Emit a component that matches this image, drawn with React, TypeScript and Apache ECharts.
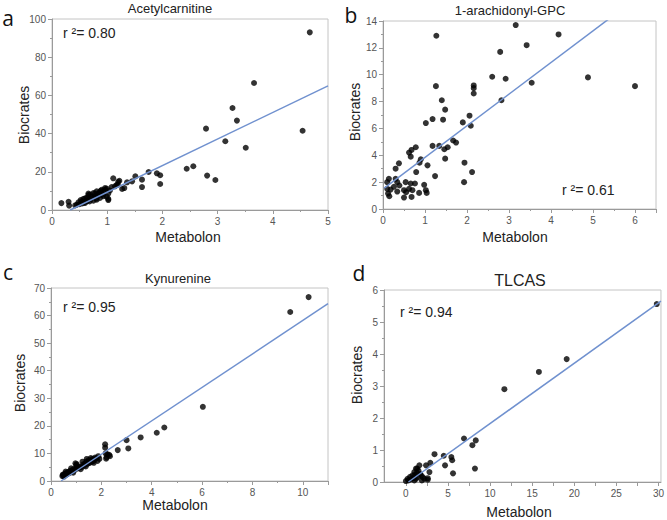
import React, { useEffect, useRef } from "react";
import * as echarts from "echarts";

// Panel a: Acetylcarnitine (Metabolon, Biocrates)
const acetylPoints: number[][] = [
  [0.17, 3.6], [0.30, 4.3], [0.31, 2.3], [0.42, 2.4], [0.45, 2.8], [0.48, 4.0], [0.50, 3.0], [0.52, 5.2],
  [0.54, 4.5], [0.55, 3.4], [0.57, 5.8], [0.58, 3.9], [0.60, 6.1], [0.60, 3.7], [0.63, 6.3], [0.63, 4.6],
  [0.65, 5.0], [0.66, 7.8], [0.66, 8.6], [0.68, 4.5], [0.69, 8.0], [0.70, 5.6], [0.72, 6.8], [0.75, 8.9],
  [0.75, 4.9], [0.77, 7.0], [0.78, 8.7], [0.78, 7.2], [0.80, 6.0], [0.81, 9.8], [0.81, 5.4], [0.83, 8.2],
  [0.84, 7.5], [0.86, 9.2], [0.87, 8.9], [0.87, 6.3], [0.88, 10.0], [0.90, 10.6], [0.92, 8.0], [0.93, 9.8],
  [0.93, 7.2], [0.96, 10.5], [0.96, 11.5], [0.99, 11.2], [0.99, 7.0], [1.02, 8.6], [1.02, 5.8], [1.02, 5.2],
  [1.05, 10.2], [1.08, 12.0], [1.11, 16.6], [1.14, 12.4], [1.17, 13.1], [1.19, 13.3], [1.20, 14.8], [1.22, 15.3],
  [1.27, 11.0], [1.31, 11.5], [1.36, 14.5], [1.45, 15.0], [1.51, 17.6], [1.63, 15.9], [1.63, 12.0], [1.75, 19.9],
  [1.90, 19.2], [1.96, 18.2], [1.96, 13.6], [2.44, 21.6], [2.56, 22.9], [2.79, 42.6], [2.81, 18.0], [2.96, 15.7],
  [3.14, 36.0], [3.27, 53.4], [3.35, 46.8], [3.51, 32.6], [3.66, 66.5], [4.54, 41.5], [4.67, 93.0],
];
const acetylFit: number[][] = [[0.33, 0], [5, 65]];

// Panel b: 1-arachidonyl-GPC
const gpcPoints: number[][] = [
  [3.16, 13.7], [1.27, 12.9], [4.18, 13.0], [3.42, 12.2], [2.79, 11.7], [2.60, 9.85], [2.92, 9.7], [3.54, 9.4],
  [4.88, 9.8], [6.0, 9.15], [1.26, 9.15], [2.16, 9.2], [2.16, 9.0], [2.16, 8.6], [1.40, 8.1], [2.82, 8.1],
  [1.48, 7.4], [2.06, 6.95], [1.18, 6.7], [1.43, 6.65], [1.02, 6.4], [1.90, 6.45], [2.09, 6.2], [1.67, 5.1],
  [1.74, 4.95], [1.54, 4.6], [1.46, 4.45], [1.18, 4.7], [1.34, 4.7], [1.48, 3.75], [0.78, 4.6], [0.68, 4.4],
  [0.62, 4.2], [0.66, 3.9], [0.38, 3.4], [0.87, 3.45], [0.90, 3.7], [1.06, 3.25], [0.30, 3.0], [0.79, 2.75],
  [1.24, 2.45], [1.94, 3.45], [2.12, 2.75], [1.93, 2.0], [0.14, 2.25], [0.30, 2.25], [0.10, 2.0], [0.34, 2.0],
  [0.54, 2.0], [0.66, 1.9], [0.76, 1.9], [0.98, 1.8], [0.10, 1.5], [0.18, 1.45], [0.26, 1.65], [0.39, 1.75],
  [0.50, 1.4], [0.62, 1.5], [0.70, 1.4], [0.55, 1.25], [1.02, 1.4], [1.04, 1.2], [0.86, 1.2], [0.15, 0.95],
  [0.50, 0.85], [0.68, 0.9], [0.12, 1.15], [0.34, 1.3],
];
const gpcFit: number[][] = [[0.03, 1.55], [6.5, 16.8]];

// Panel c: Kynurenine
const kynPoints: number[][] = [
  [0.45, 1.8], [0.47, 2.3], [0.49, 2.1], [0.52, 1.6], [0.55, 2.5], [0.56, 2.7], [0.60, 2.2], [0.62, 3.0],
  [0.66, 2.6], [0.69, 3.3], [0.72, 2.9], [0.75, 3.6], [0.78, 3.1], [0.82, 3.9], [0.86, 3.5], [0.90, 4.3],
  [0.95, 4.0], [1.0, 5.8], [1.02, 6.1], [1.02, 5.0], [1.06, 4.6], [1.10, 5.2], [1.15, 4.9], [1.22, 5.1],
  [1.28, 6.0], [1.32, 5.6], [1.35, 6.3], [1.40, 7.0], [1.45, 6.2], [1.48, 6.9], [1.50, 7.6], [1.52, 6.5],
  [1.55, 7.2], [1.60, 6.8], [1.62, 7.5], [1.65, 8.0], [1.68, 7.2], [1.72, 7.8], [1.75, 8.5], [1.80, 8.2],
  [1.88, 9.0], [1.92, 8.0], [2.15, 13.3], [2.15, 12.1], [2.17, 10.0], [2.19, 8.1], [2.21, 8.6], [2.24, 9.7],
  [2.31, 9.5], [2.34, 9.0], [2.65, 11.2], [3.0, 14.8], [3.07, 11.8], [3.56, 15.8], [4.20, 17.5], [4.50, 19.4],
  [6.03, 26.9], [9.50, 61.3], [10.23, 66.7],
  [0.58, 3.4], [0.80, 4.6], [0.97, 6.4], [1.25, 7.0], [1.42, 8.0], [1.58, 8.3], [1.38, 5.3], [1.18, 4.3],
  [0.88, 3.0], [1.70, 6.6], [1.85, 7.3],
];
const kynFit: number[][] = [[0.4, 0], [11, 64.3]];

// Panel d: TLCAS
const tlcasPoints: number[][] = [
  [0.0, 0.03], [0.2, 0.1], [0.3, 0.05], [0.5, 0.16], [0.6, 0.08], [0.8, 0.21], [0.9, 0.12], [1.0, 0.31],
  [1.0, 0.05], [1.1, 0.22], [1.2, 0.1], [1.2, 0.42], [1.3, 0.28], [1.35, 0.42], [1.4, 0.15], [1.5, 0.35],
  [1.6, 0.52], [1.7, 0.25], [1.8, 0.21], [1.9, 0.05], [2.0, 0.15], [2.2, 0.1], [2.4, 0.52], [2.6, 0.07],
  [2.6, 0.12], [2.8, 0.31], [2.9, 0.6], [3.4, 0.87], [4.5, 0.82], [4.65, 0.52], [5.4, 0.78], [5.5, 0.68],
  [5.6, 0.27], [6.9, 1.36], [7.9, 1.15], [8.2, 0.42], [8.3, 1.3], [11.7, 2.9], [15.8, 3.44], [19.1, 3.84],
  [29.8, 5.56],
];
const tlcasFit: number[][] = [[0.3, 0], [30.3, 5.65]];
const tlcasXLabels = [0, 5, 10, 15, 20, 25, 30];
const tlcasXTicks = [0, 2.5, 5, 7.5, 10, 12.5, 15, 17.5, 20, 22.5, 25, 27.5, 30];

const titles = ["Acetylcarnitine", "1-arachidonyl-GPC", "Kynurenine", "TLCAS"];
const rsq = ["0.80", "0.61", "0.95", "0.94"];
const letters = ["a", "b", "c", "d"];

const FONT = "'Liberation Sans', Arial, sans-serif";
const LINE = "#7091cf";
const AXIS = "#9a9a9a";
const LABEL = "#555";

function xAxisCfg(gridIndex: number, min: number, max: number, interval: number | null, extra: any = {}) {
  return {
    type: "value",
    gridIndex,
    min,
    max,
    ...(interval != null ? { interval } : {}),
    axisLine: { show: true, onZero: false, lineStyle: { color: AXIS } },
    axisTick: { show: true, length: 4, lineStyle: { color: AXIS }, ...(extra.ticks ? { customValues: extra.ticks } : {}) },
    minorTick: { show: !extra.ticks, splitNumber: 2, length: 2, lineStyle: { color: AXIS } },
    axisLabel: {
      color: LABEL,
      fontSize: 10,
      fontFamily: FONT,
      margin: 6,
      showMaxLabel: extra.showMax !== false,
      ...(extra.labels ? { customValues: extra.labels } : {}),
    },
    splitLine: { show: false },
  };
}

function yAxisCfg(gridIndex: number, min: number, max: number, interval: number) {
  return {
    type: "value",
    gridIndex,
    min,
    max,
    interval,
    axisLine: { show: true, onZero: false, lineStyle: { color: AXIS } },
    axisTick: { show: true, length: 4, lineStyle: { color: AXIS } },
    minorTick: { show: true, splitNumber: 2, length: 2, lineStyle: { color: AXIS } },
    axisLabel: { color: LABEL, fontSize: 10, fontFamily: FONT, margin: 6 },
    splitLine: { show: false },
  };
}

function txt(text: string, x: number, y: number, size: number, extra: any = {}) {
  return {
    type: "text",
    x,
    y,
    rotation: extra.rotation || 0,
    style: {
      text,
      fontSize: size,
      fontFamily: extra.font || FONT,
      fill: extra.fill || "#222",
      textAlign: extra.align || "center",
      textVerticalAlign: "middle",
    },
  };
}

export default function App() {
  const ref = useRef<HTMLDivElement>(null);
  useEffect(() => {
    if (!ref.current) return;
    const chart = echarts.init(ref.current, null, { renderer: "svg" });
    const gridBase = { show: true, borderColor: "#c4c4c4", borderWidth: 1, backgroundColor: "#fff" };
    const scatter = (i: number, data: number[][]) => ({
      type: "scatter",
      xAxisIndex: i,
      yAxisIndex: i,
      data,
      symbolSize: 6,
      itemStyle: { color: "#000" },
      z: 2,
    });
    const fit = (i: number, data: number[][]) => ({
      type: "line",
      xAxisIndex: i,
      yAxisIndex: i,
      data,
      showSymbol: false,
      symbol: "none",
      clip: true,
      lineStyle: { color: LINE, width: 1.5 },
      z: 3,
    });
    const rot = Math.PI / 2;
    const letterStyle = { fill: "#111", font: "'Open Sans', sans-serif" };
    chart.setOption({
      animation: false,
      backgroundColor: "#fff",
      grid: [
        { ...gridBase, left: 52, top: 19, width: 276, height: 191 },
        { ...gridBase, left: 383, top: 21, width: 273, height: 188 },
        { ...gridBase, left: 51, top: 288, width: 277, height: 193 },
        { ...gridBase, left: 384, top: 290, width: 278, height: 192 },
      ],
      xAxis: [
        xAxisCfg(0, 0, 5, 1),
        xAxisCfg(1, 0, 6.5, 1, { showMax: false }),
        xAxisCfg(2, 0, 11, 2, { showMax: false }),
        xAxisCfg(3, -2.6, 30.3, null, { labels: tlcasXLabels, ticks: tlcasXTicks }),
      ],
      yAxis: [
        yAxisCfg(0, 0, 100, 20),
        yAxisCfg(1, 0, 14, 2),
        yAxisCfg(2, 0, 70, 10),
        yAxisCfg(3, 0, 6, 1),
      ],
      series: [
        scatter(0, acetylPoints),
        fit(0, acetylFit),
        scatter(1, gpcPoints),
        fit(1, gpcFit),
        scatter(2, kynPoints),
        fit(2, kynFit),
        scatter(3, tlcasPoints),
        fit(3, tlcasFit),
      ],
      graphic: [
        txt(letters[0], 8, 18, 21, letterStyle),
        txt(letters[1], 351, 15, 21, letterStyle),
        txt(letters[2], 8, 272, 21, letterStyle),
        txt(letters[3], 359, 273, 21, letterStyle),
        txt(titles[0], 170, 8, 13),
        txt(titles[1], 510, 10, 13),
        txt(titles[2], 178, 278, 13),
        txt(titles[3], 520, 280, 16),
        txt("Metabolon", 188, 237, 14),
        txt("Metabolon", 515, 237, 14),
        txt("Metabolon", 175, 505, 14),
        txt("Metabolon", 519, 512, 14),
        txt("Biocrates", 24, 115, 14, { rotation: rot }),
        txt("Biocrates", 355, 112, 14, { rotation: rot }),
        txt("Biocrates", 20, 383, 14, { rotation: rot }),
        txt("Biocrates", 357, 375, 14, { rotation: rot }),
        txt("r \u00b2= " + rsq[0], 63, 33, 14, { align: "left" }),
        txt("r \u00b2= " + rsq[1], 562, 190, 14, { align: "left" }),
        txt("r \u00b2= " + rsq[2], 63, 307, 14, { align: "left" }),
        txt("r \u00b2= " + rsq[3], 400, 312, 14, { align: "left" }),
      ],
    });
    return () => chart.dispose();
  }, []);
  return (
    <div
      ref={ref}
      style={{ position: "fixed", left: 0, top: 0, width: 667, height: 520, background: "#fff" }}
    />
  );
}
